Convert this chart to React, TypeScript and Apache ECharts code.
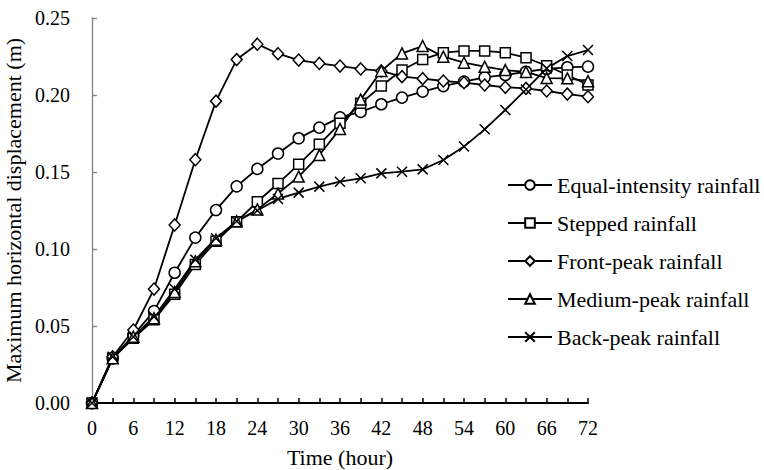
import React, { useEffect, useRef } from "react";
import * as echarts from "echarts";

const hours = [0, 3, 6, 9, 12, 15, 18, 21, 24, 27, 30, 33, 36, 39, 42, 45, 48, 51, 54, 57, 60, 63, 66, 69, 72];

const equalIntensity = [0, 0.029, 0.044, 0.0597, 0.0846, 0.1074, 0.1253, 0.1407, 0.152, 0.162, 0.1719, 0.1788, 0.1855, 0.189, 0.194, 0.1983, 0.2022, 0.2058, 0.2087, 0.2115, 0.213, 0.2151, 0.2169, 0.218, 0.2184];
const stepped = [0, 0.029, 0.042, 0.054, 0.0706, 0.09, 0.105, 0.1177, 0.1307, 0.1425, 0.155, 0.168, 0.1816, 0.1946, 0.2058, 0.2162, 0.2231, 0.2275, 0.2286, 0.2286, 0.2275, 0.2242, 0.219, 0.213, 0.2065];
const frontPeak = [0, 0.03, 0.0474, 0.074, 0.1156, 0.158, 0.196, 0.223, 0.233, 0.2268, 0.2227, 0.2205, 0.2188, 0.2169, 0.2156, 0.2119, 0.2106, 0.2091, 0.208, 0.2065, 0.205, 0.2043, 0.2026, 0.2006, 0.1989];
const mediumPeak = [0, 0.029, 0.043, 0.055, 0.072, 0.092, 0.106, 0.118, 0.1257, 0.136, 0.147, 0.161, 0.178, 0.197, 0.2156, 0.227, 0.2318, 0.2249, 0.221, 0.2184, 0.2162, 0.215, 0.211, 0.2108, 0.209];
const backPeak = [0, 0.03, 0.043, 0.056, 0.074, 0.093, 0.107, 0.118, 0.125, 0.1325, 0.1366, 0.1405, 0.1437, 0.1459, 0.1491, 0.1502, 0.1517, 0.1578, 0.1665, 0.1777, 0.1903, 0.2036, 0.2173, 0.2253, 0.2292];

const seriesNames = ["Equal-intensity rainfall", "Stepped rainfall", "Front-peak rainfall", "Medium-peak rainfall", "Back-peak rainfall"];
const seriesData = [equalIntensity, stepped, frontPeak, mediumPeak, backPeak];
const symbols = ["circle", "rect", "diamond", "triangle", "path://M0,0L10,10M10,0L0,10"];
const symbolSizes: any[] = [11, 10, [11, 12], 11, 10];

const FONT = "'Liberation Serif', 'Times New Roman', serif";

export default function App() {
  const ref = useRef<HTMLDivElement>(null);
  useEffect(() => {
    if (!ref.current) return;
    const chart = echarts.init(ref.current, undefined, { renderer: "svg" });
    chart.setOption({
      animation: false,
      backgroundColor: "#ffffff",
      grid: { left: 92, right: 176, top: 18, bottom: 67, containLabel: false, outerBoundsMode: "none" },
      legend: {
        orient: "vertical",
        left: 502,
        top: 169,
        padding: 5,
        itemWidth: 44,
        itemHeight: 12,
        itemGap: 16,
        textStyle: { fontFamily: FONT, fontSize: 22, color: "#000" },
        data: seriesNames,
      },
      xAxis: {
        type: "value",
        min: 0,
        max: 72,
        interval: 3,
        name: "Time (hour)",
        nameLocation: "middle",
        nameGap: 43,
        nameTextStyle: { fontFamily: FONT, fontSize: 22, color: "#000" },
        axisLine: { lineStyle: { color: "#000", width: 2 } },
        axisTick: { inside: true, length: 5, lineStyle: { color: "#000", width: 1.5 } },
        axisLabel: {
          fontFamily: FONT,
          fontSize: 20,
          color: "#000",
          margin: 15,
          formatter: (v: number) => (v % 6 === 0 ? String(v) : ""),
        },
        splitLine: { show: false },
      },
      yAxis: {
        type: "value",
        min: 0,
        max: 0.25,
        interval: 0.05,
        name: "Maximum horizontal displacement (m)",
        nameLocation: "middle",
        nameGap: 66,
        nameTextStyle: { fontFamily: FONT, fontSize: 22, color: "#000" },
        axisLine: { show: true, lineStyle: { color: "#808080", width: 1.3 } },
        axisTick: { show: true, inside: true, length: 5, lineStyle: { color: "#808080", width: 1.3 } },
        axisLabel: {
          fontFamily: FONT,
          fontSize: 20,
          color: "#000",
          margin: 22,
          formatter: (v: number) => v.toFixed(2),
        },
        splitLine: { show: false },
      },
      series: seriesNames.map((name, i) => ({
        name,
        type: "line",
        data: hours.map((h, j) => [h, seriesData[i][j]]),
        symbol: symbols[i],
        symbolSize: symbolSizes[i],
        showAllSymbol: true,
        lineStyle: { color: "#000", width: 1.8 },
        itemStyle: { color: "#fff", borderColor: "#000", borderWidth: 1.5 },
        emphasis: { disabled: true },
      })),
    });
    return () => chart.dispose();
  }, []);
  return <div ref={ref} style={{ width: 764, height: 470, position: "absolute", left: 0, top: 0 }} />;
}
